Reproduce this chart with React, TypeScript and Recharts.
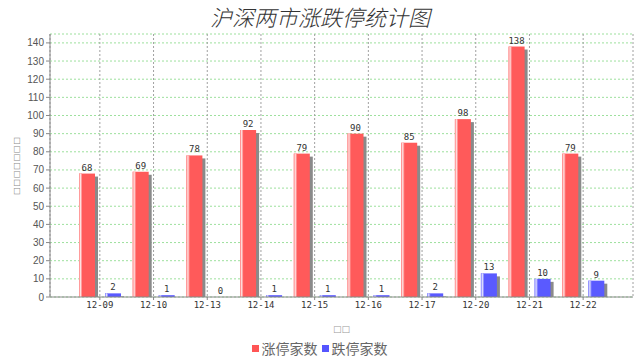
import React from 'react';
import { BarChart, Bar, XAxis, YAxis, CartesianGrid, Legend, LabelList } from 'recharts';

const categories = ['12-09', '12-10', '12-13', '12-14', '12-15', '12-16', '12-17', '12-20', '12-21', '12-22'];
const limitUp = [68, 69, 78, 92, 79, 90, 85, 98, 138, 79];
const limitDown = [2, 1, 0, 1, 1, 1, 2, 13, 10, 9];
const yTicks = [0, 10, 20, 30, 40, 50, 60, 70, 80, 90, 100, 110, 120, 130, 140];
const titleText = '沪深两市涨跌停统计图';
const upName = '涨停家数';
const downName = '跌停家数';
const yLabel = '□□□□□□□';
const xLabel = '□□';

const data = categories.map((c, i) => ({ date: c, up: limitUp[i], down: limitDown[i] }));

const makeShape = (main: string, light: string) => (props: any) => {
  const { x, y, width, height } = props;
  if (!height || height <= 0) return <g />;
  const sh = Math.max(height - 3, 0);
  return (
    <g>
      <rect x={x + 3} y={y + 3} width={width} height={sh} fill="#8a8a8a" />
      <rect x={x} y={y} width={width} height={height} fill={main} />
      <rect x={x} y={y} width={3} height={height} fill={light} />
      <rect x={x + 1} y={y} width={1} height={height} fill="#ffffff" opacity={0.7} />
    </g>
  );
};

const legendContent = () => (
  <div style={{ display: 'flex', justifyContent: 'center', alignItems: 'center', height: 20, fontFamily: '"Noto Sans CJK SC", sans-serif', fontSize: 14, color: '#666', paddingLeft: 6 }}>
    <span style={{ display: 'inline-block', width: 7, height: 7, background: '#ff5555', marginRight: 3 }} />
    <span style={{ marginRight: 4 }}>{upName}</span>
    <span style={{ display: 'inline-block', width: 7, height: 7, background: '#5555ff', marginRight: 3 }} />
    <span>{downName}</span>
  </div>
);

const YLabel = (props: any) => {
  const vb = props.viewBox || {};
  const cy = (vb.y ?? 34) + (vb.height ?? 263) / 2;
  return (
    <text x={16} y={cy} transform={`rotate(-90 16 ${cy})`} textAnchor="middle" dominantBaseline="central" fontSize={8} fill="#888" fontFamily='"DejaVu Sans", sans-serif' letterSpacing={0.8}>
      {yLabel}
    </text>
  );
};

export default function App() {
  return (
    <div style={{ position: 'absolute', left: 0, top: 0, width: 640, height: 360, background: '#fff' }}>
      <div style={{ position: 'absolute', left: 0, top: 1, width: 640, textAlign: 'center', fontFamily: '"Noto Sans CJK SC", sans-serif', fontSize: 22, fontStyle: 'italic', fontWeight: 300, color: '#333', lineHeight: '30px' }}>
        {titleText}
      </div>
      <BarChart
        width={640}
        height={360}
        data={data}
        margin={{ top: 34, right: 7, left: 0, bottom: 0 }}
        barSize={16}
        barGap={10}
      >
        <CartesianGrid vertical={false} stroke="#9de09d" strokeDasharray="2 2" />
        <CartesianGrid horizontal={false} stroke="#a0a0a0" strokeDasharray="2 2" />
        <XAxis
          dataKey="date"
          padding={{ left: 23, right: 23 }}
          height={43}
          tick={{ fontSize: 9, fill: '#333', fontFamily: '"DejaVu Sans Mono", monospace' }}
          tickSize={3}
          tickLine={{ stroke: '#888' }}
          axisLine={{ stroke: '#888' }}
          label={{ value: xLabel, position: 'insideBottom', offset: 8, fontSize: 9, fill: '#999', fontFamily: '"DejaVu Sans", sans-serif' }}
        />
        <XAxis xAxisId="top" dataKey="date" orientation="top" height={0} tick={false} tickLine={false} axisLine={{ stroke: '#888' }} />
        <YAxis
          width={50}
          domain={[0, 144.9]}
          ticks={yTicks}
          interval={0}
          tick={{ fontSize: 10, fill: '#555', fontFamily: '"Liberation Sans", sans-serif' }}
          tickSize={4}
          tickLine={{ stroke: '#888' }}
          axisLine={{ stroke: '#888' }}
          label={<YLabel />}
        />
        <YAxis yAxisId="r" orientation="right" width={0} domain={[0, 144.9]} tick={false} tickLine={false} axisLine={{ stroke: '#888' }} />
        <Legend verticalAlign="bottom" height={20} content={legendContent} wrapperStyle={{ bottom: 2 }} />
        <Bar dataKey="up" name={upName} fill="#ff5555" shape={makeShape('#ff5a5a', '#ff9c9c')} isAnimationActive={false}>
          <LabelList dataKey="up" position="top" offset={3} style={{ fontSize: 9, fill: '#333', fontFamily: '"DejaVu Sans Mono", monospace' }} />
        </Bar>
        <Bar dataKey="down" name={downName} fill="#5555ff" shape={makeShape('#5a5aff', '#9c9cff')} isAnimationActive={false}>
          <LabelList dataKey="down" position="top" offset={3} style={{ fontSize: 9, fill: '#333', fontFamily: '"DejaVu Sans Mono", monospace' }} />
        </Bar>
      </BarChart>
    </div>
  );
}
